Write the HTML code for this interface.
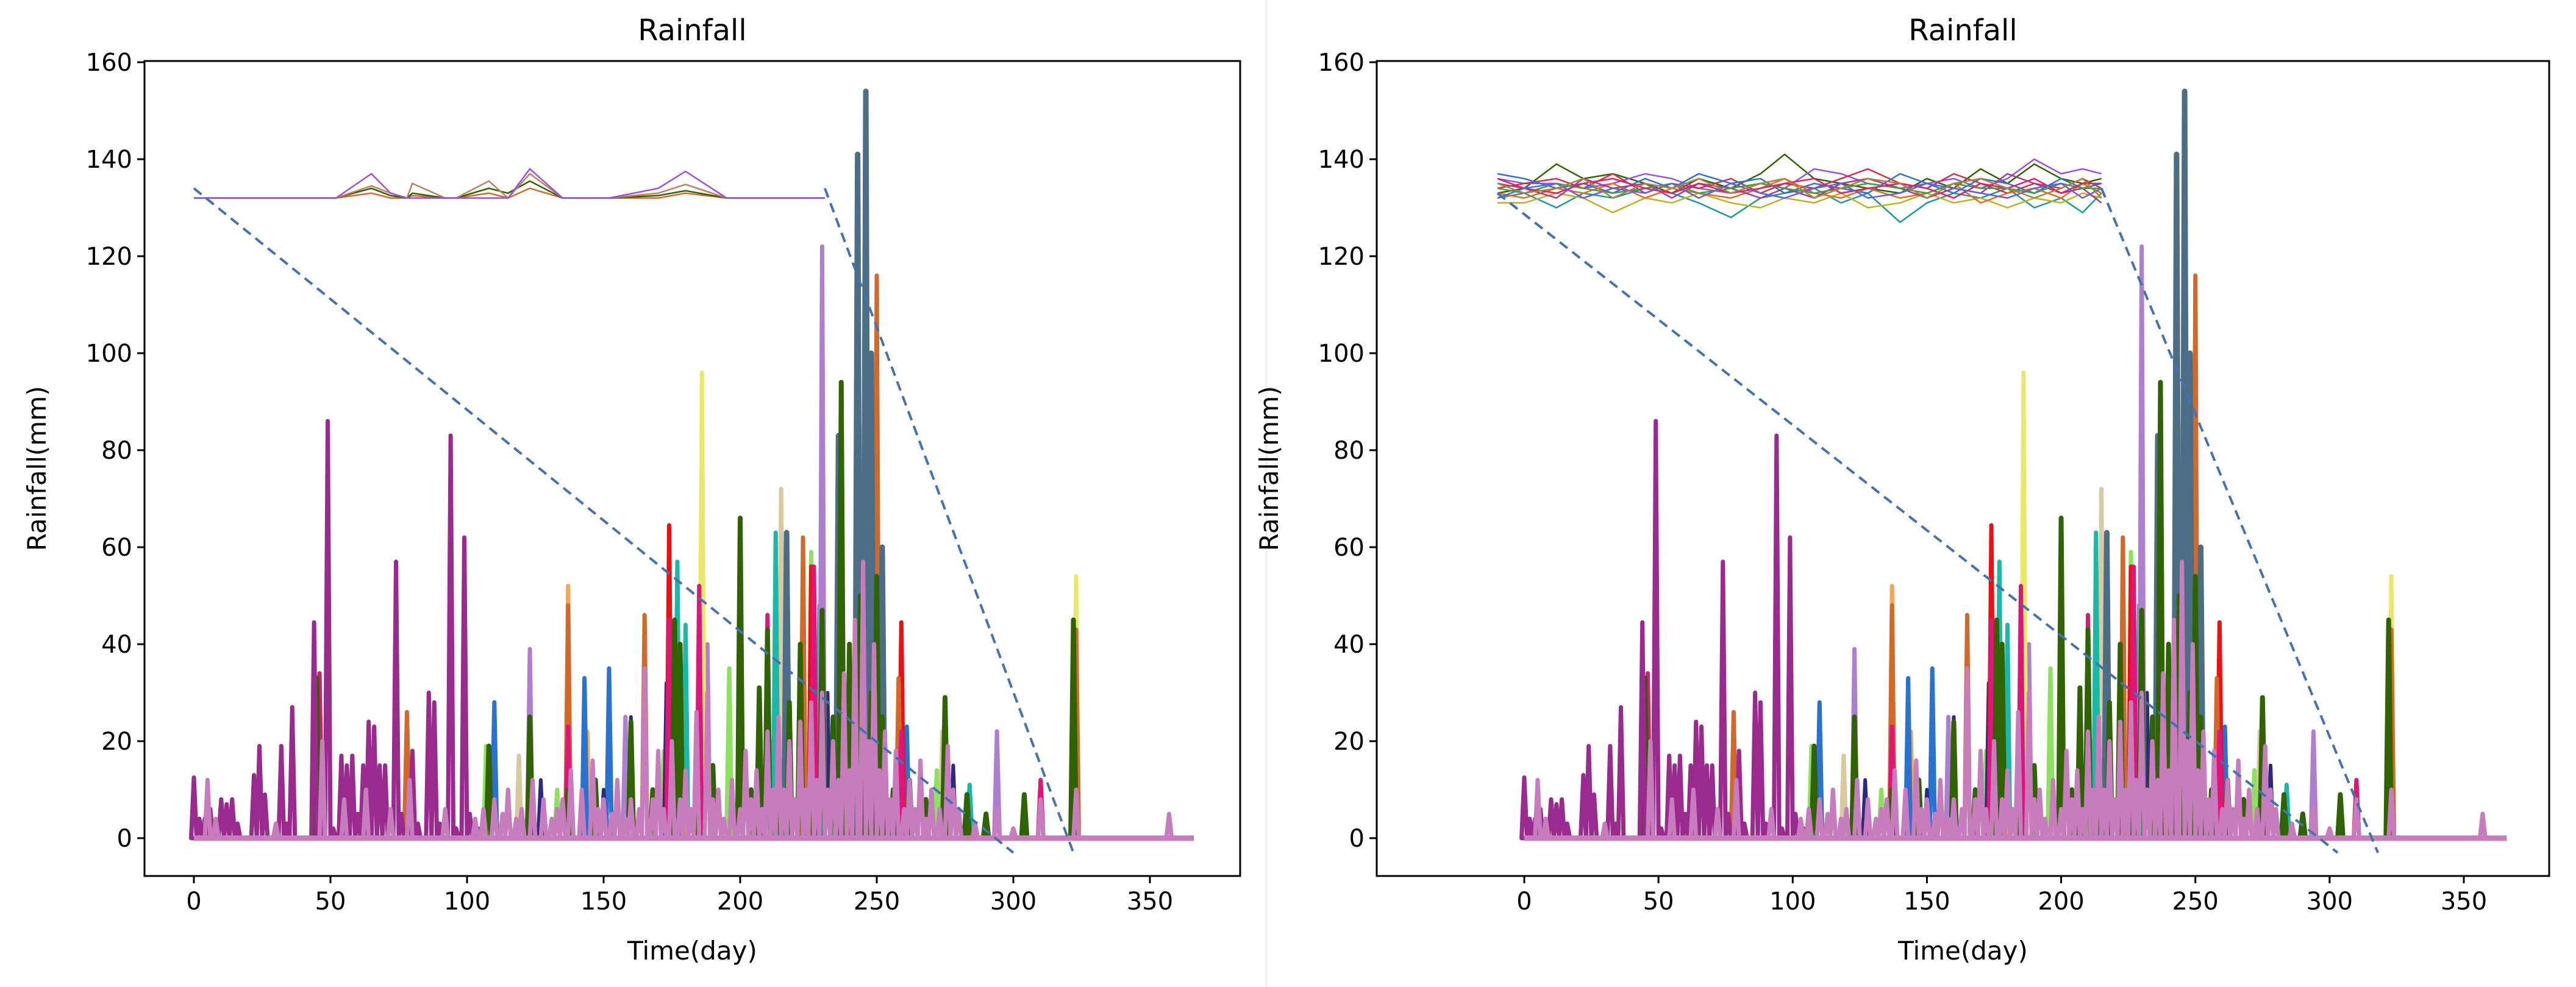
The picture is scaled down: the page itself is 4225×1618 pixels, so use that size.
<!DOCTYPE html>
<html><head><meta charset="utf-8">
<style>
html,body{margin:0;padding:0;background:#fff;}
svg{display:block;font-family:"DejaVu Sans","Liberation Sans",sans-serif;}
</style></head>
<body>
<svg id="chart" width="4225" height="1618" viewBox="0 0 4225 1618" xmlns="http://www.w3.org/2000/svg">
<rect x="0" y="0" width="4225" height="1618" fill="#fff"/>
<line x1="2077" y1="0" x2="2077" y2="1618" stroke="#eeeeee" stroke-width="3"/>
</svg>
<script>
// ---- data ----
const xTicks = [0, 50, 100, 150, 200, 250, 300, 350];
const yTicks = [0, 20, 40, 60, 80, 100, 120, 140, 160];
const sPurple = [[0,12.5],[2,4],[4,4],[6,6],[8,2],[10,8],[12,7],[14,8],[16,3],[22,13],[24,19],[26,9],[32,19],[34,3],[36,27],[44,44.5],[46,5],[49,86],[51,2],[54,17],[56,15],[58,17],[60,5],[62,15],[64,24],[66,23],[68,15],[70,15],[74,57],[76,5],[80,18],[82,3],[86,30],[88,28],[90,3],[94,83],[96,2],[99,62],[101,5],[104,2]];
const sGreen = [[45,33],[108,19],[123,25],[137,10],[147,12],[160,24],[168,10],[176,45],[178,40],[184,12],[190,15],[200,66],[204,10],[207,31],[210,43],[214,20],[218,28],[222,40],[226,15],[230,47],[234,25],[237,94],[240,40],[244,50],[248,30],[250,54],[252,25],[256,10],[262,12],[268,8],[275,29],[283,9],[290,5],[304,9],[322,45]];
const sSlate = [[217,63],[236,83],[243,141],[246,154],[248,100],[252,60]];
const sOrange = [[78,26],[137,48],[165,46],[223,62],[241,33],[250,116],[258,33],[323,43]];
const sRed = [[174,64.5],[226,56],[259,44.5]];
const sYellow = [[186,96],[244,85],[323,54]];
const sLilac = [[123,39],[158,25],[186,66],[188,40],[230,122],[294,22]];
const sTeal = [[177,57],[180,44],[213,63],[229,48],[284,11]];
const sBlue = [[110,28],[143,33],[152,35],[196,29],[261,23],[323,47]];
const sMagenta = [[46,34],[137,23],[174,45],[185,52],[210,46],[227,56],[240,33],[248,100],[259,22],[310,12]];
const sTan = [[119,17],[215,72],[226,58],[274,22]];
const sPeach = [[137,52],[144,22],[179,23]];
const sLime = [[107,19],[133,10],[172,18],[196,35],[212,20],[226,59],[243,45],[272,14]];
const sNavy = [[123,33],[127,12],[150,10],[160,25],[173,32],[232,30],[262,12],[278,15]];
const sPink = [[5,12],[8,4],[30,3],[47,20],[55,8],[63,10],[72,6],[79,12],[92,6],[103,4],[106,6],[110,8],[113,5],[115,10],[118,4],[120,6],[124,12],[128,8],[131,4],[133,6],[135,8],[138,14],[142,10],[146,16],[148,6],[150,8],[153,5],[155,12],[158,4],[160,8],[163,6],[165,35],[168,8],[170,18],[172,6],[175,20],[178,8],[180,14],[182,6],[184,26],[188,30],[190,8],[192,10],[194,4],[197,12],[200,6],[202,18],[204,8],[206,14],[208,6],[210,22],[212,10],[214,25],[216,10],[218,20],[220,8],[222,24],[224,10],[226,28],[228,12],[230,30],[232,10],[234,20],[236,12],[238,34],[240,14],[242,45],[245,57],[247,20],[249,40],[251,14],[253,22],[255,8],[257,18],[260,6],[262,12],[264,6],[266,16],[268,4],[270,10],[273,6],[276,19],[278,10],[280,6],[286,3],[294,6],[300,2],[310,8],[323,10],[357,5]];
const bandLDays = [0, 52, 65, 72, 78, 80, 92, 96, 108, 115, 123, 135, 152, 170, 180, 195, 231];
const bandL1 = [132, 132, 137, 133, 132, 132, 132, 132, 132, 132, 138, 132, 132, 134, 137.5, 132, 132];
const bandL2 = [132, 132, 134.5, 133, 132, 135, 132, 132, 135.5, 132, 137, 132, 132, 133, 134.8, 132, 132];
const bandL3 = [132, 132, 134, 132.5, 132, 133, 132, 132, 134, 133, 135.5, 132, 132, 132.5, 133.5, 132, 132];
const bandL4 = [132, 132, 133, 132, 132, 132.5, 132, 132, 133, 132, 134, 132, 132, 132, 133, 132, 132];
const bandRDays = [-10, 0, 12, 22, 33, 45, 55, 65, 77, 88, 97, 108, 118, 128, 140, 150, 160, 170, 180, 190, 200, 208, 215];
const bandR1 = [133, 134, 139, 136, 137, 135, 133, 136, 134, 137, 141, 136, 135, 134, 133, 136, 134, 138, 135, 139, 136, 135, 136];
const bandR2 = [132, 133, 130, 133, 132, 134, 133, 131, 128, 132, 133, 134, 131, 133, 127, 131, 133, 132, 134, 130, 132, 129, 133];
const bandR3 = [136, 135, 135, 134, 135, 137, 136, 134, 133, 135, 134, 138, 137, 135, 134, 135, 136, 134, 136, 140, 137, 138, 137];
const bandR4 = [131, 131, 133, 132, 129, 132, 131, 133, 131, 130, 132, 131, 133, 130, 131, 133, 131, 132, 130, 132, 131, 133, 132];
const bandR5 = [134, 135, 136, 134, 137, 133, 135, 134, 136, 133, 135, 134, 136, 138, 135, 134, 137, 135, 133, 135, 134, 136, 134];
const bandR6 = [137, 136, 134, 135, 133, 136, 134, 137, 135, 136, 133, 135, 134, 133, 137, 135, 133, 136, 135, 133, 136, 134, 135];
const bandR7 = [133, 132, 134, 133, 135, 132, 134, 133, 132, 134, 136, 133, 132, 134, 132, 133, 135, 131, 133, 134, 132, 135, 133];
const bandR8 = [135, 134, 132, 136, 134, 135, 132, 135, 134, 132, 134, 132, 135, 136, 134, 132, 134, 133, 137, 135, 133, 134, 131];
const bandR9 = [134, 133, 135, 134, 133, 134, 135, 133, 134, 135, 134, 133, 134, 135, 134, 133, 135, 134, 134, 133, 135, 134, 134];
const bandR10 = [136, 134, 133, 135, 136, 134, 133, 135, 133, 134, 135, 136, 133, 134, 135, 134, 132, 135, 134, 136, 133, 135, 135];
const bandR11 = [132, 134, 135, 132, 134, 133, 135, 132, 135, 133, 132, 134, 135, 132, 133, 135, 134, 133, 132, 134, 135, 132, 134];
const bandR12 = [135, 133, 134, 136, 132, 135, 134, 136, 133, 135, 136, 132, 134, 136, 135, 132, 135, 136, 134, 132, 134, 136, 132];

// ---- drawing ----
const NS = "http://www.w3.org/2000/svg";
const svg = document.getElementById("chart");
function mk(tag, attrs, parent) {
  const e = document.createElementNS(NS, tag);
  for (const k in attrs) e.setAttribute(k, attrs[k]);
  (parent || svg).appendChild(e);
  return e;
}
const spikeSets = [
  [sTan, "#d8c9a0", 7], [sPeach, "#f5a55a", 7], [sBlue, "#2872d2", 7], [sLime, "#8ee060", 7], [sNavy, "#2a2a80", 6],
  [sTeal, "#19b8a8", 7], [sLilac, "#b07ed0", 7], [sYellow, "#e8e86a", 7], [sRed, "#ee1010", 7],
  [sOrange, "#d2692a", 7], [sMagenta, "#e0157c", 7], [sSlate, "#4b6d86", 9], [sGreen, "#2e6300", 8],
  [sPurple, "#9a2a8e", 7], [sPink, "#c77cbd", 7]
];
function panel(px, xr, bandDays, bands, bandColors, dashA, dashB, name) {
  const L = px.l, R = px.r, T = 100, B = 1436;
  const X = d => xr.x0 + (d) * (xr.x350 - xr.x0) / 350;
  const Y = v => 1374 - v * (1374 - 102) / 160;
  const g = mk("g", {});
  
  
  spikeSets.forEach(([arr, col, w]) => {
    const pts = [[X(0), Y(0)]];
    arr.forEach(([d, v]) => { pts.push([X(d - 1), Y(0)]); pts.push([X(d), Y(v)]); pts.push([X(d + 1), Y(0)]); });
    pts.push([X(366), Y(0)]);
    const p = mk("polyline", {points: pts.map(p => p.join(",")).join(" "), fill: "none", stroke: col, "stroke-width": w, "stroke-linejoin": "round"}, g);
    
    
  });
  const base = mk("line", {x1: X(0), y1: Y(0), x2: X(366), y2: Y(0), stroke: "#c77cbd", "stroke-width": 9}, g);
  
  
  bands.forEach((arr, i) => {
    const pts = arr.map((v, j) => X(bandDays[j]) + "," + Y(v)).join(" ");
    const p = mk("polyline", {points: pts, fill: "none", stroke: bandColors[i % bandColors.length], "stroke-width": 2.5}, g);
    
    
  });
  [dashA, dashB].forEach(([d0, v0, d1, v1]) => {
    const l = mk("line", {x1: X(d0), y1: Y(v0), x2: X(d1), y2: Y(v1), stroke: "#4472b0", "stroke-width": 4, "stroke-dasharray": "16,10"}, g);
    
    
  });
  const fr = mk("rect", {x: L, y: T, width: R - L, height: B - T, fill: "none", stroke: "#000", "stroke-width": 3}, g);
  
  
  xTicks.forEach(t => {
    const tk = mk("line", {x1: X(t), y1: B, x2: X(t), y2: B + 12, stroke: "#000", "stroke-width": 3}, g);
    
    
    const tx = mk("text", {x: X(t), y: B + 55, "font-size": 40, "text-anchor": "middle", fill: "#000"}, g);
    tx.textContent = t;
    
    
  });
  yTicks.forEach(t => {
    const tk = mk("line", {x1: L - 12, y1: Y(t), x2: L, y2: Y(t), stroke: "#000", "stroke-width": 3}, g);
    
    
    const tx = mk("text", {x: L - 20, y: Y(t) + 14, "font-size": 40, "text-anchor": "end", fill: "#000"}, g);
    tx.textContent = t;
    
    
  });
  const ti = mk("text", {x: (L + R) / 2, y: 66, "font-size": 48, "text-anchor": "middle", fill: "#000"}, g);
  ti.textContent = "Rainfall";
  
  
  const xl = mk("text", {x: (L + R) / 2, y: 1573, "font-size": 42, "text-anchor": "middle", fill: "#000"}, g);
  xl.textContent = "Time(day)";
  
  
  const yl = mk("text", {x: 0, y: 0, "font-size": 42, "text-anchor": "middle", fill: "#000", transform: `translate(${L - 162},${(T + B) / 2}) rotate(-90)`}, g);
  yl.textContent = "Rainfall(mm)";
  
  
}
panel({l: 237, r: 2034}, {x0: 318, x350: 1886}, bandLDays, [bandL4, bandL3, bandL2, bandL1],
  ["#d2692a", "#2e6300", "#c08060", "#9a50e0"], [0, 134, 300, -3], [231, 134, 322, -3], "left-rainfall-chart");
panel({l: 2258, r: 4181}, {x0: 2500, x350: 4041}, bandRDays, [bandR1, bandR2, bandR3, bandR4, bandR5, bandR6, bandR7, bandR8, bandR9, bandR10, bandR11, bandR12],
  ["#2e6300", "#1a9a9a", "#9a50e0", "#c0b020", "#d03050", "#3070d0", "#e07020", "#a04090", "#40a040", "#e02060", "#6060e0", "#b08040"], [-10, 133, 303, -3], [215, 134, 318, -3], "right-rainfall-chart");
</script>
</body></html>
